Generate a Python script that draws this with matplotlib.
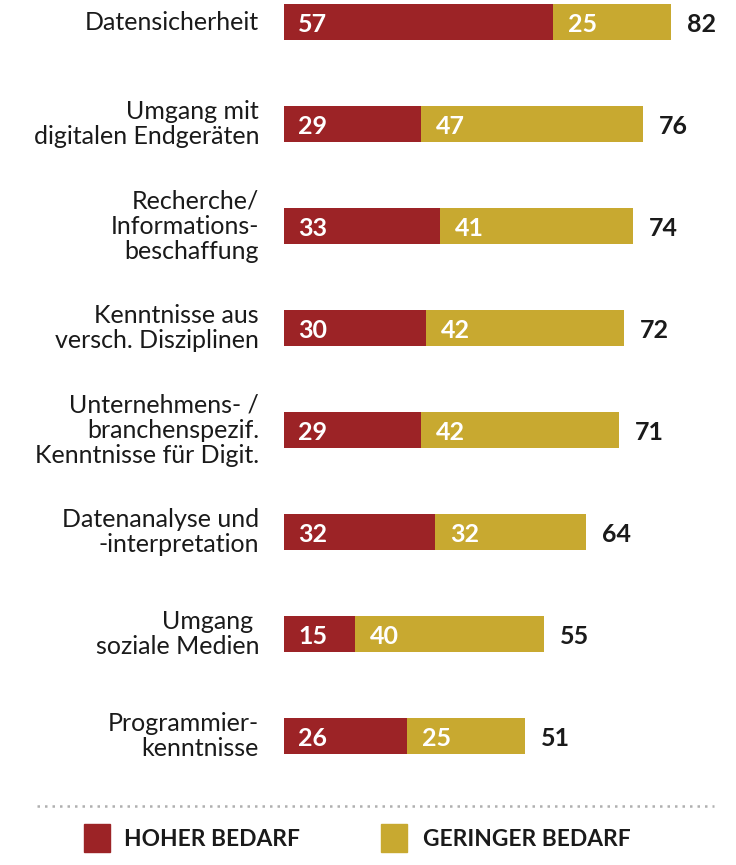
import matplotlib.pyplot as plt
from matplotlib.patches import Rectangle
from matplotlib.lines import Line2D

categories = ['Datensicherheit', 'Umgang mit\ndigitalen Endgeräten', 'Recherche/\nInformations-\nbeschaffung',
              'Kenntnisse aus\nversch. Disziplinen', 'Unternehmens- /\nbranchenspezif.\nKenntnisse für Digit.',
              'Datenanalyse und\n-interpretation', 'Umgang \nsoziale Medien', 'Programmier-\nkenntnisse']
hoher = [57, 29, 33, 30, 29, 32, 15, 26]
geringer = [25, 47, 41, 42, 42, 32, 40, 25]
legend_labels = ['HOHER BEDARF', 'GERINGER BEDARF']

red = '#9c2326'
gold = '#c8a930'
plt.rcParams['font.family'] = ['Lato', 'DejaVu Sans']

W, H = 736, 865
fig = plt.figure(figsize=(W / 100, H / 100), dpi=100)

# bars area: x pixel = 284 + 4.72*value, bar centre y = 22 + 102*i
ppu = 4.72
ax = fig.add_axes([284 / W, 1 - 790 / H, (W - 284) / W, 790 / H])
ax.set_xlim(0, (W - 284) / ppu)
ax.set_ylim(790 / 102 - 22 / 102, -22 / 102)
ax.axis('off')

y = list(range(len(categories)))
ax.barh(y, hoher, height=0.355, color=red)
ax.barh(y, geringer, left=hoher, height=0.355, color=gold)

for i in y:
    ax.text(14 / ppu, i, str(hoher[i]), color='white', fontsize=18, fontweight='bold',
            va='center_baseline', ha='left')
    ax.text(hoher[i] + 15 / ppu, i, str(geringer[i]), color='white', fontsize=18, fontweight='bold',
            va='center_baseline', ha='left')
    total = hoher[i] + geringer[i]
    ax.text(total + 16 / ppu, i, str(total), color='#1a1a1a', fontsize=18, fontweight='bold',
            va='center_baseline', ha='left')
    fig.text(259 / W, 1 - (22 + 102 * i) / H, categories[i], ha='right', va='center', fontsize=18,
             color='#1a1a1a', linespacing=1.13)

# dotted separator
fig.add_artist(Line2D([37 / W, 714 / W], [1 - 806 / H, 1 - 806 / H], color='#b0b0b0', lw=1.8,
                      linestyle=(0, (1, 2.0))))

# legend
for x0, tx, col, lab in [(84, 124, red, legend_labels[0]), (381, 423, gold, legend_labels[1])]:
    fig.add_artist(Rectangle((x0 / W, 1 - 852 / H), 26 / W, 28 / H, color=col, transform=fig.transFigure))
    fig.text(tx / W, 1 - 838 / H, lab, fontsize=16.4, fontweight='bold', color='#1a1a1a',
             va='center_baseline', ha='left')

fig.savefig('out.png', dpi=100)
